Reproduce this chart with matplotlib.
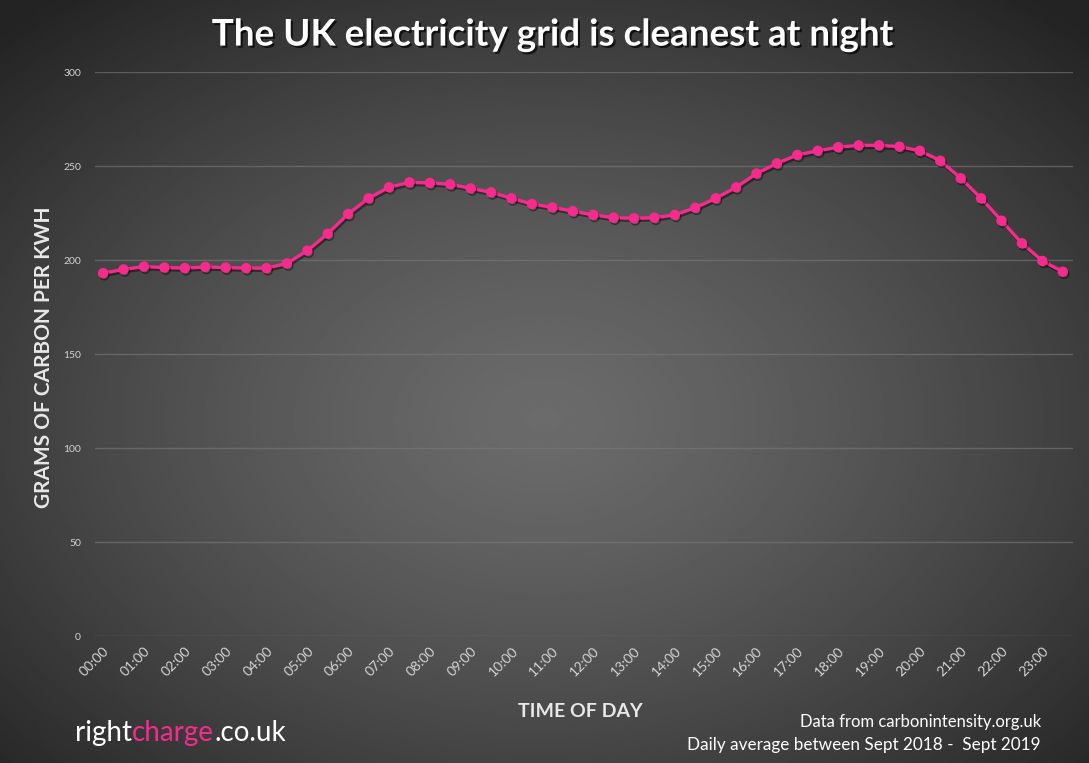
import matplotlib
matplotlib.use("Agg")
import matplotlib.pyplot as plt
import matplotlib.patheffects as pe
import numpy as np

# half-hourly average carbon intensity (gCO2/kWh), 00:00 .. 23:30
times = ["%02d:%02d" % (h, m) for h in range(24) for m in (0, 30)]
intensity = [193, 195, 196.5, 196, 195.7, 196.3, 196, 195.7, 195.7, 198.2,
             205, 214, 224.5, 232.8, 238.7, 241.3, 241, 240.3, 238.1, 236,
             232.8, 229.8, 228, 226, 224, 222.5, 222.2, 222.5, 224, 227.8,
             232.8, 238.7, 246, 251.4, 255.9, 258.1, 260, 261, 261, 260.3,
             258.1, 252.8, 243.5, 232.8, 220.9, 208.9, 199.5, 193.8]
hour_labels = ["%02d:00" % h for h in range(24)]
yticks = [0, 50, 100, 150, 200, 250, 300]

pink = "#f72b8c"
font = "Lato"

fig = plt.figure(figsize=(10.89, 7.63), dpi=100)

# radial gradient background
bg = fig.add_axes([0, 0, 1, 1], zorder=-10)
yy, xx = np.mgrid[0:1:400j, 0:1:600j]
r = np.sqrt(((xx - 0.5) / 0.75) ** 2 + ((yy - 0.55) / 0.75) ** 2)
shade = np.clip(0.42 - 0.30 * r ** 1.3, 0.14, 1)
bg.imshow(shade, cmap="gray", vmin=0, vmax=1, extent=[0, 1, 0, 1],
          aspect="auto", interpolation="bilinear")
bg.set_axis_off()

ax = fig.add_axes([0.0872, 0.1664, 0.8981, 0.7392])
ax.patch.set_alpha(0)
x = np.arange(len(intensity))
ax.plot(x, intensity, color=pink, lw=2.4, marker="o", ms=6.5, zorder=3,
        path_effects=[pe.SimpleLineShadow(offset=(1, -1.5), shadow_color="black", alpha=0.45),
                      pe.Normal()])

ax.set_xlim(-0.4, 47.5)
ax.set_ylim(0, 300)
ax.set_yticks(yticks)
ax.set_yticklabels([str(v) for v in yticks], fontsize=7.5, color="#d2d2d2", family=font)
ax.set_xticks(x[::2])
ax.set_xticklabels(hour_labels, rotation=45, ha="right", va="top",
                   rotation_mode="anchor", fontsize=10, color="#d4d4d4", family=font)
ax.tick_params(length=0, axis="both")
ax.tick_params(axis="y", pad=10)
ax.tick_params(axis="x", pad=6)
ax.grid(axis="y", color="#7a7a7a", lw=1, alpha=0.6)
ax.grid(axis="x", visible=False)
for s in ax.spines.values():
    s.set_visible(False)

fig.text(0.0404, 0.532, "GRAMS OF CARBON PER KWH", rotation=90, ha="center", va="center",
         fontsize=15, fontweight="bold", color="#e8e8e8", family=font)
fig.text(0.533, 0.067, "TIME OF DAY", ha="center", va="center",
         fontsize=14, fontweight="bold", color="#e8e8e8", family=font)

fig.text(0.506, 0.954, "The UK electricity grid is cleanest at night", ha="center", va="center",
         fontsize=26.5, fontweight="bold", color="white", family=font,
         path_effects=[pe.withSimplePatchShadow(offset=(1.5, -1.5), shadow_rgbFace="black", alpha=0.7)])

fig.text(0.956, 0.054, "Data from carbonintensity.org.uk", ha="right", va="center",
         fontsize=12, color="white", family=font)
fig.text(0.956, 0.024, "Daily average between Sept 2018 -  Sept 2019", ha="right", va="center",
         fontsize=12.3, color="white", family=font)

# brand text in three colours
fig.canvas.draw()
renderer = fig.canvas.get_renderer()
xpos = 0.069
for part, col in [("right", "white"), ("charge", pink), (".co.uk", "white")]:
    t = fig.text(xpos, 0.039, part, ha="left", va="center", fontsize=20,
                 color=col, family=font)
    w = t.get_window_extent(renderer=renderer).width
    xpos += w / fig.bbox.width

fig.savefig("out.png", dpi=100)
